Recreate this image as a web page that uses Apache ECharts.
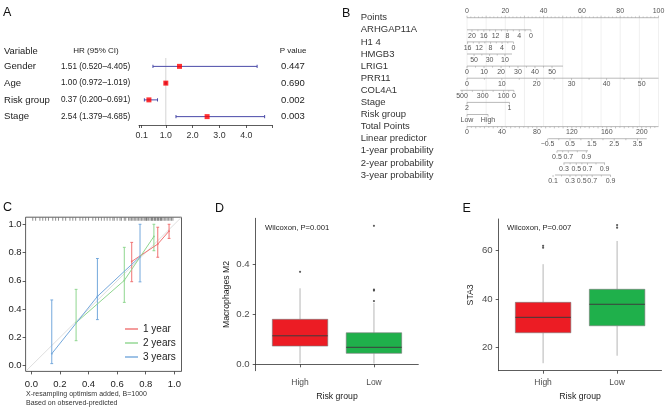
<!DOCTYPE html>
<html><head><meta charset="utf-8">
<script src="https://cdn.jsdelivr.net/npm/echarts@6/dist/echarts.min.js"></script>
<style>html,body{margin:0;padding:0;background:#fff}#c{width:669px;height:409px}</style>
</head><body><div id="c"></div><script>
const FONT = '"Liberation Sans", Arial, Helvetica, sans-serif';

// ---------------- Panel A : forest plot ----------------
const forestVars = ['Gender', 'Age', 'Risk group', 'Stage'];
const forestHR = [1.51, 1.00, 0.37, 2.54];
const forestLow = [0.520, 0.972, 0.200, 1.379];
const forestHigh = [4.405, 1.019, 0.691, 4.685];
const forestP = ['0.447', '0.690', '0.002', '0.003'];
const forestTickLabels = [0.1, 1, 2, 3, 4];
const forestAxisMax = 4.96;

// ---------------- Panel B : nomogram (tick positions on Points / Total Points scales) ----------------
const nomoNames = ['Points','ARHGAP11A','H1 4','HMGB3','LRIG1','PRR11','COL4A1','Stage','Risk group','Total Points','Linear predictor','1-year probability','2-year probability','3-year probability'];
const pointsLabels = ['0','20','40','60','80','100'];
const pointsAt = [0,20,40,60,80,100];
const arhgapLabels = ['20','16','12','8','4','0'];
const arhgapAt = [2.6,8.8,14.9,21.1,27.3,33.4];
const arhgapRange = [0,33.4];
const h14Labels = ['16','12','8','4','0'];
const h14At = [0.3,6.3,12.3,18.3,24.3];
const h14Range = [0,24.3];
const hmgb3Labels = ['50','30','10'];
const hmgb3At = [3.7,11.8,19.8];
const hmgb3Range = [0,23.5];
const lrig1Labels = ['0','10','20','30','40','50'];
const lrig1At = [0,8.9,17.8,26.6,35.5,44.4];
const lrig1Range = [0,50.1];
const prr11Labels = ['0','10','20','30','40','50'];
const prr11At = [0,18.2,36.4,54.6,72.9,91.2];
const prr11Range = [0,100];
const col4a1Labels = ['500','300','100','0'];
const col4a1At = [-2.6,8.2,19.1,24.5];
const col4a1Range = [-3.5,24.5];
const stageLabels = ['2','1'];
const stageAt = [0,22.2];
const riskLabels = ['Low','High'];
const riskAt = [0,11];
const totalLabels = ['0','40','80','120','160','200'];
const totalAt = [0,40,80,120,160,200];
const totalRange = [0,219.2];
const lpLabels = ['\u22120.5','0.5','1.5','2.5','3.5'];
const lpAt = [92.2,117.9,142.8,168.5,195.2];
const lpRange = [93,205.7];
const yr1Labels = ['0.5','0.7','0.9'];
const yr1At = [103,116,136.6];
const yr1Range = [103,138.5];
const yr2Labels = ['0.3','0.5','0.7','0.9'];
const yr2At = [111,125.1,137.9,157.4];
const yr2Range = [110.5,158];
const yr3Labels = ['0.1','0.3','0.5','0.7','0.9'];
const yr3At = [98.5,117.9,131.3,143.3,164.3];
const yr3Range = [100.7,164.5];

// ---------------- Panel C : calibration ----------------
const calNames = ['1 year', '2 years', '3 years'];
const cal1X = [0.702, 0.884, 0.963];
const cal1Y = [0.737, 0.860, 0.952];
const cal1Lo = [0.594, 0.767, 0.900];
const cal1Hi = [0.872, 0.979, 1.000];
const cal2X = [0.313, 0.650, 0.857];
const cal2Y = [0.305, 0.603, 0.914];
const cal2Lo = [0.177, 0.448, 0.813];
const cal2Hi = [0.540, 0.837, 1.000];
const cal3X = [0.143, 0.462, 0.760];
const cal3Y = [0.085, 0.490, 0.771];
const cal3Lo = [0.015, 0.326, 0.593];
const cal3Hi = [0.465, 0.758, 1.000];
const calTicks = [0, 0.2, 0.4, 0.6, 0.8, 1.0];
const rugX = [0.01,0.03,0.06,0.08,0.10,0.12,0.15,0.17,0.19,0.22,0.24,0.27,0.29,0.31,0.34,0.36,0.38,0.40,0.43,0.45,0.47,0.49,0.51,0.53,0.55,0.57,0.58,0.60,0.62,0.63,0.65,0.66,0.68,0.69,0.70,0.71,0.72,0.73,0.74,0.75,0.76,0.77,0.78,0.79,0.80,0.805,0.81,0.82,0.83,0.84,0.845,0.85,0.86,0.865,0.87,0.88,0.885,0.89,0.90,0.905,0.91,0.92,0.93,0.94,0.95,0.96,0.97,0.98,0.99];

// ---------------- Panels D/E : boxplots ----------------
const boxGroups = ['High', 'Low'];
const boxPos = [1, 2];
const m2Stats = [[0.004,0.073,0.114,0.180,0.304],[0.003,0.044,0.068,0.126,0.245]];
const m2Outliers = [[1,0.370],[2,0.253],[2,0.295],[2,0.299],[2,0.554]];
const m2Ticks = [0, 0.2, 0.4];
const sta3Stats = [[13.4,26.0,32.4,38.6,54.4],[16.5,28.9,37.8,44.0,64.0]];
const sta3Outliers = [[1,61.2],[1,62.0],[2,69.5],[2,70.6]];
const sta3Ticks = [20, 40, 60];

// ======================================================================
const NOMO_LINE = '#9c9c9c', NOMO_TXT = '#555';
function addTicks(list, labels, at, row, opts) {
  opts = opts || {};
  for (let i = 0; i < at.length; i++) {
    list.push({x: at[i], row: row, label: labels[i], above: !!opts.above, len: 2});
    if (opts.mid && i < at.length - 1) list.push({x: (at[i] + at[i+1]) / 2, row: row, label: '', above: !!opts.above, len: 1.5});
  }
}
const ptsTicks = [], tpTicks = [];
for (let v = 0; v <= 100; v += 2) { if (v % 20 !== 0) ptsTicks.push({x: v, row: 0, label: '', above: true, len: v % 10 === 0 ? 2 : 1.2}); }
addTicks(ptsTicks, pointsLabels, pointsAt, 0, {above: true});
addTicks(ptsTicks, arhgapLabels, arhgapAt, 1, {mid: true});
addTicks(ptsTicks, h14Labels, h14At, 2, {mid: true});
addTicks(ptsTicks, hmgb3Labels, hmgb3At, 3, {mid: true});
addTicks(ptsTicks, lrig1Labels, lrig1At, 4, {mid: true});
addTicks(ptsTicks, prr11Labels, prr11At, 5, {mid: true});
addTicks(ptsTicks, col4a1Labels, col4a1At, 6, {mid: true});
addTicks(ptsTicks, stageLabels, stageAt, 7);
addTicks(ptsTicks, riskLabels, riskAt, 8);
for (let v = 0; v <= 215; v += 5) { if (v % 40 !== 0) tpTicks.push({x: v, row: 9, label: '', above: false, len: v % 10 === 0 ? 1.8 : 1.2}); }
addTicks(tpTicks, totalLabels, totalAt, 9);
addTicks(tpTicks, lpLabels, lpAt, 10, {mid: true});
addTicks(tpTicks, yr1Labels, yr1At, 11, {mid: true});
addTicks(tpTicks, yr2Labels, yr2At, 12, {mid: true});
addTicks(tpTicks, yr3Labels, yr3At, 13, {mid: true});
const ptsLines = [[0,100,0],[arhgapRange[0],arhgapRange[1],1],[h14Range[0],h14Range[1],2],[hmgb3Range[0],hmgb3Range[1],3],[lrig1Range[0],lrig1Range[1],4],[prr11Range[0],prr11Range[1],5],[col4a1Range[0],col4a1Range[1],6],[stageAt[0],stageAt[1],7],[riskAt[0],riskAt[1],8]];
const tpLines = [[totalRange[0],totalRange[1],9],[lpRange[0],lpRange[1],10],[yr1Range[0],yr1Range[1],11],[yr2Range[0],yr2Range[1],12],[yr3Range[0],yr3Range[1],13]];
const nomoGridX = [];
for (let v = 0; v <= 100; v += 10) nomoGridX.push([v, 0]);

function tickRenderer(items) {
  return function (params, api) {
    const it = items[params.dataIndex];
    const p = api.coord([it.x, it.row]);
    const dir = it.above ? -1 : 1;
    const ch = [{type: 'line', shape: {x1: p[0], y1: p[1], x2: p[0], y2: p[1] + dir * it.len}, style: {stroke: NOMO_LINE, lineWidth: 0.6}}];
    if (it.label !== '') ch.push({type: 'text', x: p[0], y: p[1] + (it.above ? -6.7 : 5.8), style: {text: it.label, fontSize: 7, fontFamily: FONT, fill: NOMO_TXT, align: 'center', verticalAlign: 'middle'}});
    return {type: 'group', children: ch};
  };
}
function lineRenderer(items) {
  return function (params, api) {
    const it = items[params.dataIndex];
    const a = api.coord([it[0], it[2]]), b = api.coord([it[1], it[2]]);
    return {type: 'line', shape: {x1: a[0], y1: a[1], x2: b[0], y2: b[1]}, style: {stroke: NOMO_LINE, lineWidth: 0.7}};
  };
}

// forest
const ciData = forestVars.map((v, i) => [forestLow[i], forestHigh[i], i]);
const hrData = forestVars.map((v, i) => [forestHR[i], i]);
const hrText = forestVars.map((v, i) => forestHR[i].toFixed(2) + ' (' + forestLow[i].toFixed(3) + '\u2013' + forestHigh[i].toFixed(3) + ')');

// calibration
const CAL_COLORS = ['#f07272', '#8fd68f', '#74a8dc'];
const calX = [cal1X, cal2X, cal3X], calY = [cal1Y, cal2Y, cal3Y], calLo = [cal1Lo, cal2Lo, cal3Lo], calHi = [cal1Hi, cal2Hi, cal3Hi];
const calSeries = [];
calNames.forEach((nm, k) => {
  calSeries.push({
    name: nm, type: 'line', xAxisIndex: 3, yAxisIndex: 4, z: 4,
    data: calX[k].map((x, i) => [x, calY[k][i]]),
    showSymbol: true, symbol: 'circle', symbolSize: 1.8,
    lineStyle: {color: CAL_COLORS[k], width: 1}, itemStyle: {color: CAL_COLORS[k]},
    animation: false
  });
  calSeries.push({
    type: 'custom', xAxisIndex: 3, yAxisIndex: 4, z: 4,
    data: calX[k].map((x, i) => [x, calLo[k][i], calHi[k][i]]),
    encode: {x: 0, y: [1, 2]},
    renderItem: function (params, api) {
      const lo = api.coord([api.value(0), api.value(1)]);
      const hi = api.coord([api.value(0), api.value(2)]);
      const c = 1.4, st = {stroke: CAL_COLORS[k], lineWidth: 1};
      return {type: 'group', children: [
        {type: 'line', shape: {x1: lo[0], y1: lo[1], x2: hi[0], y2: hi[1]}, style: st},
        {type: 'line', shape: {x1: lo[0] - c, y1: lo[1], x2: lo[0] + c, y2: lo[1]}, style: st},
        {type: 'line', shape: {x1: hi[0] - c, y1: hi[1], x2: hi[0] + c, y2: hi[1]}, style: st}
      ]};
    }
  });
});

function boxRenderer(colors) {
  return function (params, api) {
    const x = api.value(0), hw = 0.375;
    const mn = api.value(1), q1 = api.value(2), md = api.value(3), q3 = api.value(4), mx = api.value(5);
    const tl = api.coord([x - hw, q3]), br = api.coord([x + hw, q1]);
    const pMin = api.coord([x, mn]), pMax = api.coord([x, mx]);
    const mL = api.coord([x - hw, md]), mR = api.coord([x + hw, md]);
    const ws = {stroke: '#a3a3a3', lineWidth: 0.8};
    return {type: 'group', children: [
      {type: 'line', shape: {x1: pMax[0], y1: pMax[1], x2: pMax[0], y2: tl[1]}, style: ws},
      {type: 'line', shape: {x1: pMin[0], y1: pMin[1], x2: pMin[0], y2: br[1]}, style: ws},
      {type: 'rect', shape: {x: tl[0], y: tl[1], width: br[0] - tl[0], height: br[1] - tl[1]}, style: {fill: colors[params.dataIndex], stroke: '#777', lineWidth: 0.6}},
      {type: 'line', shape: {x1: mL[0], y1: mL[1], x2: mR[0], y2: mR[1]}, style: {stroke: '#3c3c3c', lineWidth: 1}}
    ]};
  };
}
const BOX_COLORS = ['#ec1c24', '#1fb04b'];

function boxXAxis(gi) {
  return {
    gridIndex: gi, type: 'value', min: 0.4, max: 2.6,
    axisLine: {show: true, lineStyle: {color: '#333', width: 0.8}},
    axisTick: {show: true, customValues: boxPos, length: 3, lineStyle: {color: '#333', width: 0.8}},
    axisLabel: {customValues: boxPos, formatter: v => boxGroups[Math.round(v) - 1], fontSize: 8.5, fontFamily: FONT, color: '#4d4d4d', margin: 7},
    splitLine: {show: false},
    name: 'Risk group', nameLocation: 'middle', nameGap: 21, nameTextStyle: {fontSize: 8.7, fontFamily: FONT, color: '#222'}
  };
}
function boxYAxis(gi, min, max, ticks, fmt, name, gap) {
  return {
    gridIndex: gi, type: 'value', min: min, max: max,
    axisLine: {show: true, lineStyle: {color: '#333', width: 0.8}},
    axisTick: {show: true, customValues: ticks, length: 3, lineStyle: {color: '#333', width: 0.8}},
    axisLabel: {customValues: ticks, formatter: fmt, fontSize: 9.6, fontFamily: FONT, color: '#4d4d4d', margin: 6},
    splitLine: {show: false},
    name: name, nameLocation: 'middle', nameGap: gap, nameRotate: 90, nameTextStyle: {fontSize: 8.7, fontFamily: FONT, color: '#222'}
  };
}

const option = {
  backgroundColor: '#fff',
  animation: false,
  textStyle: {fontFamily: FONT},
  legend: {
    data: calNames, orient: 'vertical', left: 125, top: 323, padding: 0,
    itemWidth: 13, itemHeight: 1.4, itemGap: 2, icon: 'rect',
    textStyle: {fontSize: 10, fontFamily: FONT, color: '#222', lineHeight: 12}
  },
  grid: [
    {left: 139, top: 58, width: 133, height: 67},
    {left: 467, top: 11.65, width: 191.5, height: 169.4},
    {left: 25.6, top: 217.2, width: 155.9, height: 154.2, show: true, borderColor: '#333', borderWidth: 0.8, backgroundColor: 'transparent'},
    {left: 255.7, top: 218.3, width: 162.6, height: 152.4},
    {left: 498.7, top: 219, width: 162.8, height: 151.7}
  ],
  xAxis: [
    {gridIndex: 0, type: 'value', min: 0, max: forestAxisMax,
      axisLine: {show: true, lineStyle: {color: '#333', width: 0.8}},
      axisTick: {show: true, customValues: [0].concat(forestTickLabels, [forestAxisMax]), length: 3, lineStyle: {color: '#333', width: 0.8}},
      axisLabel: {customValues: forestTickLabels, formatter: v => v.toFixed(1), fontSize: 8.8, fontFamily: FONT, color: '#333', margin: 6},
      splitLine: {show: false}},
    {gridIndex: 1, type: 'value', min: 0, max: 100, show: false},
    {gridIndex: 1, type: 'value', min: 0, max: totalRange[1], show: false},
    {gridIndex: 2, type: 'value', min: -0.04, max: 1.05,
      axisLine: {show: false, onZero: false},
      axisTick: {show: true, customValues: calTicks, length: 3, lineStyle: {color: '#333', width: 0.8}},
      axisLabel: {customValues: calTicks, formatter: v => v.toFixed(1), fontSize: 9.5, fontFamily: FONT, color: '#222', margin: 8},
      splitLine: {show: false}},
    boxXAxis(3),
    boxXAxis(4)
  ],
  yAxis: [
    {gridIndex: 0, type: 'category', inverse: true, data: forestVars,
      axisLine: {show: false}, axisTick: {show: false},
      axisLabel: {interval: 0, align: 'left', margin: 135, fontSize: 9.6, fontFamily: FONT, color: '#222'}},
    {gridIndex: 0, type: 'category', inverse: true, data: hrText, position: 'left',
      axisLine: {show: false}, axisTick: {show: false},
      axisLabel: {interval: 0, align: 'left', margin: 78, fontSize: 8.2, fontFamily: FONT, color: '#222'}},
    {gridIndex: 0, type: 'category', inverse: true, data: forestP, position: 'right',
      axisLine: {show: false}, axisTick: {show: false},
      axisLabel: {interval: 0, align: 'center', margin: 21, fontSize: 9.5, fontFamily: FONT, color: '#222'}},
    {gridIndex: 1, type: 'category', inverse: true, data: nomoNames,
      axisLine: {show: false}, axisTick: {show: false},
      axisLabel: {interval: 0, align: 'left', margin: 106.3, fontSize: 9.5, fontFamily: FONT, color: '#333', padding: [0, 0, 2, 0]}},
    {gridIndex: 2, type: 'value', min: -0.04, max: 1.05,
      axisLine: {show: false, onZero: false},
      axisTick: {show: true, customValues: calTicks, length: 3, lineStyle: {color: '#333', width: 0.8}},
      axisLabel: {customValues: calTicks, formatter: v => v.toFixed(1), fontSize: 9.5, fontFamily: FONT, color: '#222', margin: 4},
      splitLine: {show: false}},
    boxYAxis(3, -0.0256, 0.584, m2Ticks, v => v.toFixed(1), 'Macrophages M2', 25),
    boxYAxis(4, 10.3, 73.1, sta3Ticks, v => String(v), 'STA3', 23.5)
  ],
  series: [
    // ---- A
    {type: 'custom', xAxisIndex: 0, yAxisIndex: 0, z: 1, data: [[1, 0]], encode: {x: 0, y: 1}, clip: false,
      renderItem: function (params, api) {
        const p = api.coord([api.value(0), 0]);
        const cs = params.coordSys;
        return {type: 'line', shape: {x1: p[0], y1: cs.y, x2: p[0], y2: cs.y + cs.height}, style: {stroke: '#d4d4d4', lineWidth: 1}};
      }},
    {type: 'custom', xAxisIndex: 0, yAxisIndex: 0, z: 2, data: ciData, encode: {x: [0, 1], y: 2}, clip: false,
      renderItem: function (params, api) {
        const row = ciData[params.dataIndex][2];
        const a = api.coord([api.value(0), row]), b = api.coord([api.value(1), row]);
        const st = {stroke: '#4a4aa8', lineWidth: 1}, c = 1.6;
        return {type: 'group', children: [
          {type: 'line', shape: {x1: a[0], y1: a[1], x2: b[0], y2: b[1]}, style: st},
          {type: 'line', shape: {x1: a[0], y1: a[1] - c, x2: a[0], y2: a[1] + c}, style: st},
          {type: 'line', shape: {x1: b[0], y1: b[1] - c, x2: b[0], y2: b[1] + c}, style: st}
        ]};
      }},
    {type: 'scatter', xAxisIndex: 0, yAxisIndex: 0, z: 3, data: hrData, symbol: 'rect', symbolSize: 5, itemStyle: {color: '#ff0000'}},
    // ---- B
    {type: 'custom', xAxisIndex: 1, yAxisIndex: 3, z: 1, data: nomoGridX, encode: {x: 0, y: 1}, clip: false,
      renderItem: function (params, api) {
        const a = api.coord([api.value(0), 0]), b = api.coord([api.value(0), 9]);
        return {type: 'line', shape: {x1: a[0], y1: a[1], x2: b[0], y2: b[1]}, style: {stroke: '#ececec', lineWidth: 0.8}};
      }},
    {type: 'custom', xAxisIndex: 1, yAxisIndex: 3, z: 2, data: ptsLines, encode: {x: [0, 1], y: 2}, clip: false, renderItem: lineRenderer(ptsLines)},
    {type: 'custom', xAxisIndex: 1, yAxisIndex: 3, z: 2, data: ptsTicks.map(t => [t.x, t.row]), encode: {x: 0, y: 1}, clip: false, renderItem: tickRenderer(ptsTicks)},
    {type: 'custom', xAxisIndex: 2, yAxisIndex: 3, z: 2, data: tpLines, encode: {x: [0, 1], y: 2}, clip: false, renderItem: lineRenderer(tpLines)},
    {type: 'custom', xAxisIndex: 2, yAxisIndex: 3, z: 2, data: tpTicks.map(t => [t.x, t.row]), encode: {x: 0, y: 1}, clip: false, renderItem: tickRenderer(tpTicks)},
    // ---- C
    {type: 'line', xAxisIndex: 3, yAxisIndex: 4, z: 1, data: [[-0.04, -0.04], [1.05, 1.05]], showSymbol: false, lineStyle: {color: '#d6d6d6', width: 0.8}},
    {type: 'custom', xAxisIndex: 3, yAxisIndex: 4, z: 3, data: rugX.map(x => [x, 1.025, 1.047]), encode: {x: 0, y: [1, 2]}, clip: false,
      renderItem: function (params, api) {
        const a = api.coord([api.value(0), api.value(1)]), b = api.coord([api.value(0), api.value(2)]);
        return {type: 'line', shape: {x1: a[0], y1: a[1], x2: b[0], y2: b[1]}, style: {stroke: '#444', lineWidth: 0.6}};
      }}
  ].concat(calSeries, [
    // ---- D
    {type: 'custom', xAxisIndex: 4, yAxisIndex: 5, z: 2, data: boxPos.map((p, i) => [p].concat(m2Stats[i])), encode: {x: 0, y: [1, 2, 3, 4, 5]}, clip: false, renderItem: boxRenderer(BOX_COLORS)},
    {type: 'scatter', xAxisIndex: 4, yAxisIndex: 5, z: 3, data: m2Outliers, symbolSize: 2.2, itemStyle: {color: '#333'}},
    // ---- E
    {type: 'custom', xAxisIndex: 5, yAxisIndex: 6, z: 2, data: boxPos.map((p, i) => [p].concat(sta3Stats[i])), encode: {x: 0, y: [1, 2, 3, 4, 5]}, clip: false, renderItem: boxRenderer(BOX_COLORS)},
    {type: 'scatter', xAxisIndex: 5, yAxisIndex: 6, z: 3, data: sta3Outliers, symbolSize: 2.2, itemStyle: {color: '#333'}}
  ]),
  graphic: [
    {type: 'text', x: 3, y: 12.5, style: {text: 'A', fontSize: 12.5, fontFamily: FONT, fill: '#111', verticalAlign: 'middle'}},
    {type: 'text', x: 342, y: 14, style: {text: 'B', fontSize: 12.5, fontFamily: FONT, fill: '#111', verticalAlign: 'middle'}},
    {type: 'text', x: 3, y: 207.5, style: {text: 'C', fontSize: 12.5, fontFamily: FONT, fill: '#111', verticalAlign: 'middle'}},
    {type: 'text', x: 215, y: 208.3, style: {text: 'D', fontSize: 12.5, fontFamily: FONT, fill: '#111', verticalAlign: 'middle'}},
    {type: 'text', x: 462.5, y: 208.3, style: {text: 'E', fontSize: 12.5, fontFamily: FONT, fill: '#111', verticalAlign: 'middle'}},
    {type: 'text', x: 4, y: 51, style: {text: 'Variable', fontSize: 9.4, fontFamily: FONT, fill: '#222', verticalAlign: 'middle'}},
    {type: 'text', x: 96, y: 50.5, style: {text: 'HR (95% CI)', fontSize: 8, fontFamily: FONT, fill: '#222', align: 'center', verticalAlign: 'middle'}},
    {type: 'text', x: 293, y: 50.5, style: {text: 'P value', fontSize: 8, fontFamily: FONT, fill: '#222', align: 'center', verticalAlign: 'middle'}},
    {type: 'text', x: 26, y: 394.3, style: {text: 'X-resampling optimism added, B=1000', fontSize: 7, fontFamily: FONT, fill: '#333', verticalAlign: 'middle'}},
    {type: 'text', x: 26, y: 403.3, style: {text: 'Based on observed-predicted', fontSize: 7, fontFamily: FONT, fill: '#333', verticalAlign: 'middle'}},
    {type: 'text', x: 265, y: 228.3, style: {text: 'Wilcoxon, P=0.001', fontSize: 7.7, fontFamily: FONT, fill: '#222', verticalAlign: 'middle'}},
    {type: 'text', x: 507, y: 228.3, style: {text: 'Wilcoxon, P=0.007', fontSize: 7.7, fontFamily: FONT, fill: '#222', verticalAlign: 'middle'}}
  ]
};
const chart = echarts.init(document.getElementById('c'));
chart.setOption(option);
</script></body></html>
